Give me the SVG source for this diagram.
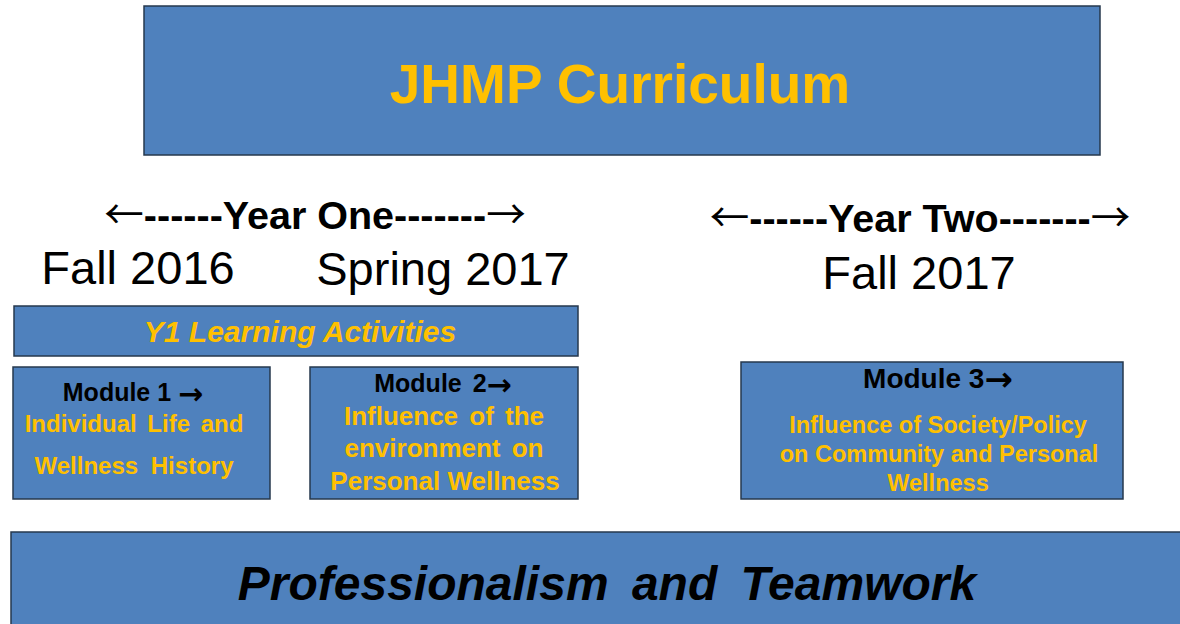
<svg xmlns="http://www.w3.org/2000/svg" width="1180" height="624" viewBox="0 0 1180 624">
<style>
.box{fill:#4F81BD;stroke:#26384d;stroke-width:1.5}
.t{font-family:"Liberation Sans",Arial,sans-serif;text-anchor:middle}
.y{fill:#FFC000;font-weight:bold}
.k{fill:#000;font-weight:bold}
.n{fill:#000;font-weight:normal}
.a{font-family:"Noto Sans CJK JP","DejaVu Sans",sans-serif;font-weight:normal}
.ab{font-family:"DejaVu Sans",sans-serif;font-weight:bold}
</style>
<rect width="1180" height="624" fill="#fff"/>
<g id="title">
<rect class="box" x="144" y="6" width="956" height="149"/>
<text class="t y" x="620" y="103" font-size="55">JHMP Curriculum</text>
</g>
<g id="year-one">
<text class="t k" x="315" y="229" font-size="39.5"><tspan class="a">←</tspan>------Year One-------<tspan class="a">→</tspan></text>
<text class="t n" x="138" y="284" font-size="47">Fall 2016</text>
<text class="t n" x="443" y="285" font-size="47">Spring 2017</text>
</g>
<g id="year-two">
<text class="t k" x="920" y="232" font-size="39.5"><tspan class="a">←</tspan>------Year Two-------<tspan class="a">→</tspan></text>
<text class="t n" x="919" y="289" font-size="47">Fall 2017</text>
</g>
<g id="y1-activities">
<rect class="box" x="14" y="306" width="564" height="50"/>
<text class="t y" x="300" y="342" font-size="30" font-style="italic">Y1 Learning Activities</text>
</g>
<g id="module1">
<rect class="box" x="13" y="367" width="257" height="132"/>
<text class="t k" x="133" y="401" font-size="25">Module 1 <tspan class="ab" font-size="30" dy="3">→</tspan></text>
<text class="t y" x="134" y="432" font-size="24" word-spacing="4">Individual Life and</text>
<text class="t y" x="134" y="474" font-size="24" word-spacing="6">Wellness History</text>
</g>
<g id="module2">
<rect class="box" x="310" y="367" width="268" height="132"/>
<text class="t k" x="443" y="392" font-size="25" word-spacing="4">Module 2<tspan class="ab" font-size="30" dy="3">→</tspan></text>
<text class="t y" x="444" y="425" font-size="26" word-spacing="4">Influence of the</text>
<text class="t y" x="444" y="457" font-size="26" word-spacing="4">environment on</text>
<text class="t y" x="445" y="490" font-size="26">Personal Wellness</text>
</g>
<g id="module3">
<rect class="box" x="741" y="362" width="382" height="137"/>
<text class="t k" x="938" y="388" font-size="28">Module 3<tspan class="ab" font-size="34" dy="3">→</tspan></text>
<text class="t y" x="938" y="433" font-size="23.5">Influence of Society/Policy</text>
<text class="t y" x="939" y="462" font-size="23.5">on Community and Personal</text>
<text class="t y" x="938" y="491" font-size="23.5">Wellness</text>
</g>
<g id="professionalism">
<rect class="box" x="11" y="532" width="1180" height="100"/>
<text class="t k" x="607" y="600" font-size="48" font-style="italic" word-spacing="10">Professionalism and Teamwork</text>
</g>
<g id="connectors"></g>
</svg>
